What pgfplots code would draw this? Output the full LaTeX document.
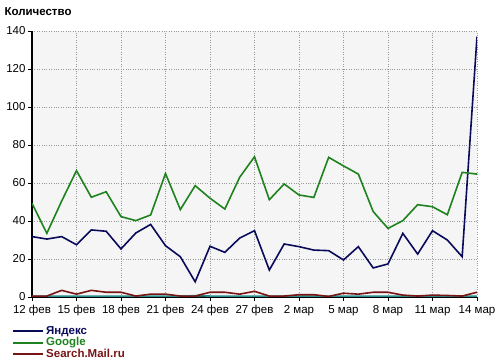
\documentclass[border=0pt]{standalone}
\usepackage{pgfplots}
\pgfplotsset{compat=1.18}
\usepackage{fontspec}
\setmainfont{Liberation Sans}
\definecolor{yan}{RGB}{10,10,90}
\definecolor{goo}{RGB}{30,130,30}
\definecolor{mail}{RGB}{120,20,20}
\definecolor{teal2}{RGB}{40,140,140}
\begin{document}
\begin{tikzpicture}
\path[use as bounding box] (0,0) rectangle (500pt,360pt);
\node[anchor=west,font=\bfseries\fontsize{11.5}{12}\selectfont] at (1pt,348pt) {Количество};
\begin{axis}[
  at={(32pt,63pt)}, anchor=south west,
  scale only axis, width=445pt, height=266pt,
  xmin=0, xmax=30, ymin=0, ymax=140,
  axis x line=bottom, axis y line=left,
  axis line style={-, black},
  x axis line style={line width=1.2pt},
  y axis line style={line width=2pt},
  xtick={0,3,...,30},
  xticklabels={12 фев,15 фев,18 фев,21 фев,24 фев,27 фев,2 мар,5 мар,8 мар,11 мар,14 мар},
  ytick={0,20,...,140},
  tick align=outside, major tick length=4pt,
  tick style={black, line width=0.8pt},
  grid=major,
  grid style={gray!80, dotted, line width=0.7pt},
  axis background/.style={fill=black!4},
  tick label style={font=\fontsize{11.5}{12}\selectfont},
  /pgf/number format/assume math mode=true,
  xticklabel style={yshift=-1pt},
  yticklabel style={xshift=1pt},
  legend style={at={(0,0)}, anchor=north west, xshift=-20pt, yshift=-27pt,
    draw=none, fill=none, inner sep=0pt, row sep=-2pt,
    font=\bfseries\fontsize{11.5}{12}\selectfont},
  legend cell align=left,
  legend image code/.code={\draw[#1, line width=2pt] (0pt,0pt) -- (30pt,0pt);},
  every axis plot/.append style={line width=1.6pt},
]
\addplot[teal2, forget plot] coordinates {
(0,0.5)(1,0.5)(2,0.5)(3,0.5)(4,0.5)(5,0.5)(6,0.5)(7,0.5)(8,0.5)(9,0.5)(10,0.5)(11,0.7)(12,0.5)(13,0.5)(14,0.5)(15,0.5)(16,0.5)(17,0.5)(18,0.5)(19,0.5)(20,0.5)(21,0.5)(22,0.5)(23,0.5)(24,0.5)(25,0.5)(26,0.5)(27,0.5)(28,0.5)(29,0.5)(30,0.5)};
\addplot[yan] coordinates {
(0,31.8)(1,30.5)(2,31.8)(3,27.5)(4,35.3)(5,34.6)(6,25.3)(7,33.7)(8,38.2)(9,27)(10,21.2)(11,8)(12,26.7)(13,23.5)(14,31)(15,34.9)(16,14.2)(17,27.9)(18,26.5)(19,24.7)(20,24.4)(21,19.5)(22,26.5)(23,15.3)(24,17.4)(25,33.5)(26,22.6)(27,34.9)(28,30)(29,21.2)(30,137)};
\addlegendentry{\textcolor{yan}{Яндекс}}
\addplot[goo] coordinates {
(0,49.3)(1,33.5)(2,50.5)(3,66.5)(4,52.5)(5,55.4)(6,42.3)(7,40.2)(8,43.2)(9,65)(10,46)(11,58.6)(12,52)(13,46.3)(14,63)(15,73.8)(16,51.2)(17,59.5)(18,53.7)(19,52.4)(20,73.5)(21,69)(22,64.7)(23,45)(24,36.1)(25,40.2)(26,48.6)(27,47.5)(28,43.3)(29,65.6)(30,64.7)};
\addlegendentry{\textcolor{goo}{Google}}
\addplot[mail] coordinates {
(0,0.5)(1,0.5)(2,3.5)(3,1.5)(4,3.5)(5,2.5)(6,2.5)(7,0.5)(8,1.5)(9,1.5)(10,0.5)(11,0.5)(12,2.5)(13,2.5)(14,1.5)(15,3)(16,0.5)(17,0.5)(18,1.2)(19,1.2)(20,0.3)(21,2)(22,1.5)(23,2.5)(24,2.5)(25,1)(26,0.5)(27,1)(28,0.8)(29,0.5)(30,2.5)};
\addlegendentry{\textcolor{mail}{Search.Mail.ru}}
\end{axis}
\end{tikzpicture}
\end{document}
